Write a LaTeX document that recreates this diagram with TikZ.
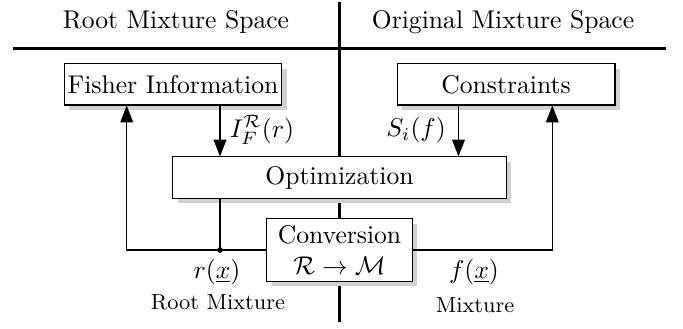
\documentclass[tikz,border=0pt]{standalone}
\usepackage{amsmath}
\usetikzlibrary{arrows.meta,positioning,shadows}

\begin{document}
\begin{tikzpicture}[
    x=0.39pt, y=-0.39pt,
    block/.style={rectangle, draw, fill=white, thin, inner sep=1pt, minimum width=85pt, minimum height=16pt, text centered, drop shadow={shadow xshift=2pt, shadow yshift=-2pt, fill=black!18, opacity=1}},
    divider/.style={line width=1.2pt},
    link/.style={thin},
    arrow/.style={-{Triangle[length=6.6pt,width=5pt]}, thin},
    caption/.style={font=\fontsize{8.5}{10}\selectfont}
]
\useasboundingbox (0,0) rectangle (683,328);

% Dividers
\draw [divider] (12.7,48.5) -- (666,48.5);
\draw [divider] (339.5,2) -- (339.5,322);

% Nodes
\node (fisher) [block] at (173,84.5) {Fisher Information};
\node (constr) [block] at (506,84.5) {Constraints};
\node (optim) [block, minimum width=130pt] at (339.5,177.5) {Optimization};
\node (conv) [block, align=center, minimum width=56.8pt, minimum height=24.2pt] at (339.5,250) {Conversion\\ $\mathcal{R}\rightarrow\mathcal{M}$};

% Tap points
\coordinate (lloop) at (126.7,250);
\coordinate (rtap) at (220,250);
\coordinate (ftap) at (458.5,250);
\coordinate (rloop) at (552.3,250);

% Arrows
\draw [arrow] (fisher.south -| rtap) -- (optim.north -| rtap);
\draw [arrow] (constr.south -| ftap) -- (optim.north -| ftap);
\draw [link] (optim.south -| rtap) -- (rtap);
\draw [arrow] (conv.west) -- (lloop) -- (fisher.south -| lloop);
\draw [arrow] (conv.east) -- (rloop) -- (constr.south -| rloop);
\node (dot) [circle, fill, inner sep=0pt, minimum size=2.2pt] at (rtap) {};

% Labels
\node (lhead) at (176,22) {Root Mixture Space};
\node (rhead) at (503,22) {Original Mixture Space};
\node (ilab) at (262,130) {$I_F^{\mathcal{R}}(r)$};
\node (slab) at (416,130) {$S_i(f)$};
\node (rlab) at (217,271.7) {$r(\underline{x})$};
\node (rname) [caption] at (218,302.7) {Root Mixture};
\node (flab) at (474,271.7) {$f(\underline{x})$};
\node (fname) [caption] at (475,305) {Mixture};

\end{tikzpicture}
\end{document}
